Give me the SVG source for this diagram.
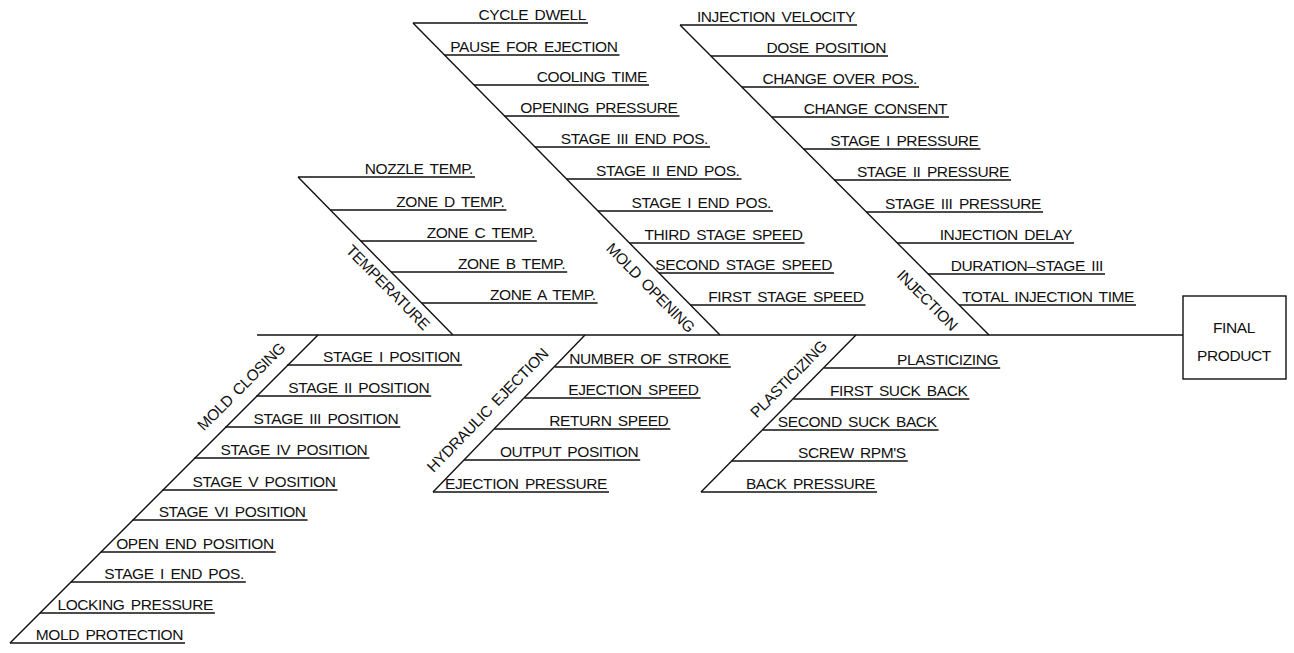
<svg xmlns="http://www.w3.org/2000/svg" width="1294" height="653" viewBox="0 0 1294 653">
<style>
line{stroke:#111;stroke-width:1.4;fill:none}
.box{stroke:#111;stroke-width:1.4;fill:#fff}
text{font-family:"Liberation Sans",Arial,sans-serif;font-size:15.5px;fill:#111;letter-spacing:-0.4px;word-spacing:2.5px}
.r{text-anchor:end}
.c{text-anchor:middle}
</style>
<rect width="1294" height="653" fill="#fff"/>
<g id="connectors">
<line x1="257" y1="335" x2="1183" y2="335"/>
<line x1="413" y1="23" x2="720" y2="335"/>
<line x1="680" y1="25" x2="989" y2="335"/>
<line x1="298" y1="177" x2="453" y2="335"/>
<line x1="318" y1="335" x2="10" y2="643"/>
<line x1="585" y1="335" x2="433" y2="492"/>
<line x1="856" y1="335" x2="701" y2="492"/>
</g>
<g id="mold-opening">
<text class="c" transform="translate(646.6,291.4) rotate(45.5)">MOLD OPENING</text>
<line x1="413" y1="23" x2="588" y2="23"/><text class="r" x="586" y="20">CYCLE DWELL</text>
<line x1="444.5" y1="55" x2="619.5" y2="55"/><text class="r" x="617.5" y="52">PAUSE FOR EJECTION</text>
<line x1="474" y1="85" x2="649" y2="85"/><text class="r" x="647" y="82">COOLING TIME</text>
<line x1="504.5" y1="116" x2="679.5" y2="116"/><text class="r" x="677.5" y="113">OPENING PRESSURE</text>
<line x1="535" y1="147" x2="710" y2="147"/><text class="r" x="708" y="144">STAGE III END POS.</text>
<line x1="566.5" y1="179" x2="741.5" y2="179"/><text class="r" x="739.5" y="176">STAGE II END POS.</text>
<line x1="598" y1="211" x2="773" y2="211"/><text class="r" x="771" y="208">STAGE I END POS.</text>
<line x1="629.5" y1="243" x2="804.5" y2="243"/><text class="r" x="802.5" y="240">THIRD STAGE SPEED</text>
<line x1="659" y1="273" x2="834" y2="273"/><text class="r" x="832" y="270">SECOND STAGE SPEED</text>
<line x1="690.5" y1="305" x2="865.5" y2="305"/><text class="r" x="863.5" y="302">FIRST STAGE SPEED</text>
</g>
<g id="injection">
<text class="c" transform="translate(923.6,303.9) rotate(45)">INJECTION</text>
<line x1="680" y1="25" x2="857" y2="25"/><text class="r" x="855" y="22">INJECTION VELOCITY</text>
<line x1="711" y1="56" x2="888" y2="56"/><text class="r" x="886" y="53">DOSE POSITION</text>
<line x1="742" y1="87" x2="919" y2="87"/><text class="r" x="917" y="84">CHANGE OVER POS.</text>
<line x1="772" y1="117" x2="949" y2="117"/><text class="r" x="947" y="114">CHANGE CONSENT</text>
<line x1="803.5" y1="149" x2="980.5" y2="149"/><text class="r" x="978.5" y="146">STAGE I PRESSURE</text>
<line x1="834" y1="180" x2="1011" y2="180"/><text class="r" x="1009" y="177">STAGE II PRESSURE</text>
<line x1="866" y1="212" x2="1043" y2="212"/><text class="r" x="1041" y="209">STAGE III PRESSURE</text>
<line x1="897" y1="243" x2="1074" y2="243"/><text class="r" x="1072" y="240">INJECTION DELAY</text>
<line x1="928" y1="274" x2="1105" y2="274"/><text class="r" x="1103" y="271">DURATION–STAGE III</text>
<line x1="959" y1="305" x2="1136" y2="305"/><text class="r" x="1134" y="302">TOTAL INJECTION TIME</text>
</g>
<g id="temperature">
<text class="c" transform="translate(384,291) rotate(45.5)">TEMPERATURE</text>
<line x1="298" y1="177" x2="475" y2="177"/><text class="r" x="473" y="174">NOZZLE TEMP.</text>
<line x1="330.4" y1="210" x2="506.4" y2="210"/><text class="r" x="504.4" y="207">ZONE D TEMP.</text>
<line x1="360.8" y1="241" x2="536.8" y2="241"/><text class="r" x="534.8" y="238">ZONE C TEMP.</text>
<line x1="391.2" y1="272" x2="567.2" y2="272"/><text class="r" x="565.2" y="269">ZONE B TEMP.</text>
<line x1="421.6" y1="303" x2="597.6" y2="303"/><text class="r" x="595.6" y="300">ZONE A TEMP.</text>
</g>
<g id="mold-closing">
<text class="c" transform="translate(245,390.4) rotate(-45)" word-spacing="5">MOLD CLOSING</text>
<line x1="287.1" y1="365" x2="462.1" y2="365"/><text class="r" x="460.1" y="362">STAGE I POSITION</text>
<line x1="256.2" y1="396" x2="431.2" y2="396"/><text class="r" x="429.2" y="393">STAGE II POSITION</text>
<line x1="225.3" y1="427" x2="400.3" y2="427"/><text class="r" x="398.3" y="424">STAGE III POSITION</text>
<line x1="194.4" y1="458" x2="369.4" y2="458"/><text class="r" x="367.4" y="455">STAGE IV POSITION</text>
<line x1="162.5" y1="490" x2="337.5" y2="490"/><text class="r" x="335.5" y="487">STAGE V POSITION</text>
<line x1="132.6" y1="520" x2="307.6" y2="520"/><text class="r" x="305.6" y="517">STAGE VI POSITION</text>
<line x1="100.7" y1="552" x2="275.7" y2="552"/><text class="r" x="273.7" y="549">OPEN END POSITION</text>
<line x1="70.8" y1="582" x2="245.8" y2="582"/><text class="r" x="243.8" y="579">STAGE I END POS.</text>
<line x1="39.9" y1="613" x2="214.9" y2="613"/><text class="r" x="212.9" y="610">LOCKING PRESSURE</text>
<line x1="10" y1="643" x2="185" y2="643"/><text class="r" x="183" y="640">MOLD PROTECTION</text>
</g>
<g id="hydraulic-ejection">
<text class="c" transform="translate(491.4,413.9) rotate(-45.7)">HYDRAULIC EJECTION</text>
<line x1="554.8" y1="367" x2="730.8" y2="367"/><text class="r" x="728.8" y="364">NUMBER OF STROKE</text>
<line x1="524.6" y1="398" x2="700.6" y2="398"/><text class="r" x="698.6" y="395">EJECTION SPEED</text>
<line x1="494.4" y1="429" x2="670.4" y2="429"/><text class="r" x="668.4" y="426">RETURN SPEED</text>
<line x1="464.2" y1="460" x2="640.2" y2="460"/><text class="r" x="638.2" y="457">OUTPUT POSITION</text>
<line x1="433" y1="492" x2="609" y2="492"/><text class="r" x="607" y="489">EJECTION PRESSURE</text>
</g>
<g id="plasticizing">
<text class="c" transform="translate(792.3,382.9) rotate(-45.2)">PLASTICIZING</text>
<line x1="824.2" y1="368" x2="1000.2" y2="368"/><text class="r" x="998.2" y="365">PLASTICIZING</text>
<line x1="793.4" y1="399" x2="969.4" y2="399"/><text class="r" x="967.4" y="396">FIRST SUCK BACK</text>
<line x1="762.6" y1="430" x2="938.6" y2="430"/><text class="r" x="936.6" y="427">SECOND SUCK BACK</text>
<line x1="731.8" y1="461" x2="907.8" y2="461"/><text class="r" x="905.8" y="458">SCREW RPM'S</text>
<line x1="701" y1="492" x2="877" y2="492"/><text class="r" x="875" y="489">BACK PRESSURE</text>
</g>
<g id="final-product">
<rect class="box" x="1183" y="296" width="103" height="83"/>
<text class="c" x="1234" y="333">FINAL</text>
<text class="c" x="1234" y="361">PRODUCT</text>
</g>
</svg>
